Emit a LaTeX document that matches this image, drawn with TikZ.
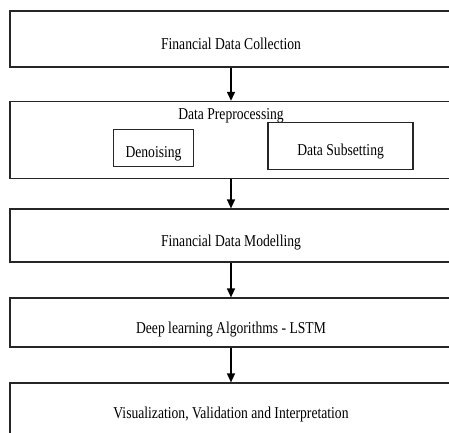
\documentclass[tikz,border=0pt]{standalone}
\usepackage{fontspec}
\setmainfont{Liberation Serif}[FakeStretch=0.82]
\usetikzlibrary{arrows.meta,positioning}

\begin{document}
\begin{tikzpicture}[->,>={Triangle[width=8pt,length=9pt]},line width=1.4pt,node distance=32pt,
	font=\fontsize{16.6pt}{20pt}\selectfont,
	stage/.style={draw=black!85,line width=1.6pt,minimum width=442pt,text height=21pt,text depth=0pt},
	inner/.style={draw=black!85,line width=1.6pt,text height=18pt,text depth=0pt}]
	\useasboundingbox (0,0) rectangle (449pt,-432pt);
	\node[stage,minimum height=56pt] (collect) at (231pt,-39pt) {Financial Data Collection};
	\node[stage,minimum height=77pt] (prepro) [below=33pt of collect] {};
	\node[anchor=base] (preprolabel) at ([yshift=-19pt]prepro.north) {Data Preprocessing};
	\node[inner,minimum width=80pt,minimum height=37pt] (denoise) [below right=28pt and 103.5pt of prepro.north west] {Denoising};
	\node[inner,minimum width=145pt,minimum height=47pt] (subset) [right=73pt of denoise,yshift=2pt] {Data Subsetting};
	\node[stage,minimum height=53pt] (model) [below=29pt of prepro] {Financial Data Modelling};
	\node[stage,minimum height=49pt] (lstm) [below=34.4pt of model] {Deep learning Algorithms - LSTM};
	\node[stage,minimum height=52pt,text height=18pt] (visual) [below=34.4pt of lstm] {Visualization, Validation and Interpretation};

	\path[every edge/.style={draw,->}]
	(collect.south) edge (prepro.north)
	(prepro.south) edge (model.north)
	(model.south) edge (lstm.north)
	(lstm.south) edge (visual.north);
\end{tikzpicture}
\end{document}
